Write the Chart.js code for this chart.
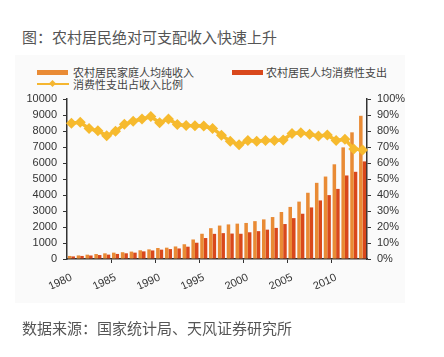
<!DOCTYPE html>
<html>
<head>
<meta charset="utf-8">
<script src="https://cdn.jsdelivr.net/npm/chart.js@4"></script>
<style>
  html, body { margin:0; padding:0; background:#fff; }
  body { width:444px; height:357px; position:relative; overflow:hidden; font-family:"Noto Sans CJK SC", sans-serif; }
  #bgbox { position:absolute; left:15px; top:55px; width:390px; height:248px; background:#fafafa; }
  #title { position:absolute; left:22px; top:28px; font-size:15px; color:#555; line-height:18px; white-space:nowrap; }
  #footer { position:absolute; left:22px; top:319px; font-size:15px; color:#555; line-height:18px; white-space:nowrap; }
  .lg { position:absolute; font-size:11px; color:#444; line-height:13px; white-space:nowrap; }
  .sw { position:absolute; }
  #wrap { position:absolute; left:0; top:0; width:444px; height:357px; }
</style>
</head>
<body>
<div id="bgbox"></div>
<div id="title">图：农村居民绝对可支配收入快速上升</div>
<div class="sw" style="left:37px;top:70px;width:31px;height:5px;background:#E98B35;"></div>
<div class="lg" style="left:73px;top:66px;">农村居民家庭人均纯收入</div>
<div class="sw" style="left:232px;top:70px;width:31px;height:5px;background:#D9481C;"></div>
<div class="lg" style="left:266px;top:66px;">农村居民人均消费性支出</div>
<div class="sw" style="left:37px;top:83px;width:32px;height:2px;background:#F5B630;"></div>
<div class="sw" style="left:50px;top:81px;width:5px;height:5px;background:#F5B630;transform:rotate(45deg);"></div>
<div class="lg" style="left:73px;top:78px;">消费性支出占收入比例</div>
<div id="wrap"><canvas id="c" width="444" height="357"></canvas></div>
<div id="footer">数据来源：国家统计局、天风证券研究所</div>
<script>
const years = [1980,1981,1982,1983,1984,1985,1986,1987,1988,1989,1990,1991,1992,1993,1994,1995,1996,1997,1998,1999,2000,2001,2002,2003,2004,2005,2006,2007,2008,2009,2010,2011,2012,2013];
const income = [191,223,270,310,355,398,424,463,545,602,686,709,784,922,1221,1578,1926,2090,2162,2210,2253,2366,2476,2622,2936,3255,3587,4140,4761,5153,5919,6977,7917,8950];
const consumption = [162,191,220,248,274,317,357,398,477,535,585,620,659,770,1017,1310,1572,1617,1590,1577,1670,1741,1834,1943,2185,2555,2829,3224,3661,3994,4382,5221,5450,6100];
const ratio = [84.8,85.4,81.5,80.1,77.1,79.8,84.2,86.1,87.5,89.0,85.2,87.5,84.1,83.5,83.3,83.1,81.6,77.4,73.6,71.4,74.1,73.6,74.1,74.1,74.4,78.5,78.9,77.9,76.9,77.5,74.0,74.8,68.8,68.2];
const seriesNames = ['农村居民家庭人均纯收入','农村居民人均消费性支出','消费性支出占收入比例'];

const tickFont = { family: '"Liberation Sans", Arial, sans-serif', size: 11 };
const axisColor = '#333';

new Chart(document.getElementById('c'), {
  data: {
    labels: years,
    datasets: [
      { type:'line', label: seriesNames[2], data: ratio, yAxisID:'y1', order:0,
        borderColor:'#F6BA2E', backgroundColor:'#F6BA2E', borderWidth:3.5,
        pointStyle:'rectRot', pointRadius:5.5, pointBackgroundColor:'#F6BA2E', pointBorderWidth:0, tension:0 },
      { type:'bar', label: seriesNames[0], data: income, yAxisID:'y', order:1,
        backgroundColor:'#E98B35', categoryPercentage:0.8, barPercentage:1.0 },
      { type:'bar', label: seriesNames[1], data: consumption, yAxisID:'y', order:1,
        backgroundColor:'#D9481C', categoryPercentage:0.8, barPercentage:1.0 }
    ]
  },
  options: {
    responsive:false,
    animation:false,
    layout: { padding: { left:20, right:30, top:99, bottom:68 } },
    plugins: { legend:{ display:false }, tooltip:{ enabled:false } },
    scales: {
      x: {
        type:'category',
        offset:true,
        border:{ display:true, color:axisColor, width:1.5 },
        grid: {
          offset:true, drawOnChartArea:false, tickLength:4,
          color: (ctx) => (ctx.index > 0 && ctx.index % 5 === 0) ? axisColor : 'rgba(0,0,0,0)'
        },
        ticks: {
          autoSkip:false, minRotation:25, maxRotation:25, padding:8,
          color:'#333', font: tickFont,
          callback: function(v, i) { const y = years[i]; return y % 5 === 0 ? String(y) : ''; }
        },
        afterFit: (s) => { s.height = 30; }
      },
      y: {
        position:'left', min:0, max:10000,
        border:{ display:true, color:axisColor, width:1.5 },
        grid:{ drawOnChartArea:false, tickLength:4, color:axisColor },
        ticks:{ stepSize:1000, autoSkip:false, color:'#333', font: tickFont, padding:6, callback:(v)=> String(v) },
        afterFit: (s) => { s.width = 47; }
      },
      y1: {
        position:'right', min:0, max:100,
        border:{ display:true, color:axisColor, width:1.5 },
        grid:{ drawOnChartArea:false, tickLength:4, color:axisColor },
        ticks:{ stepSize:10, autoSkip:false, color:'#333', font: tickFont, padding:6, callback:(v)=> v + '%' },
        afterFit: (s) => { s.width = 47; }
      }
    }
  }
});
</script>
</body>
</html>
